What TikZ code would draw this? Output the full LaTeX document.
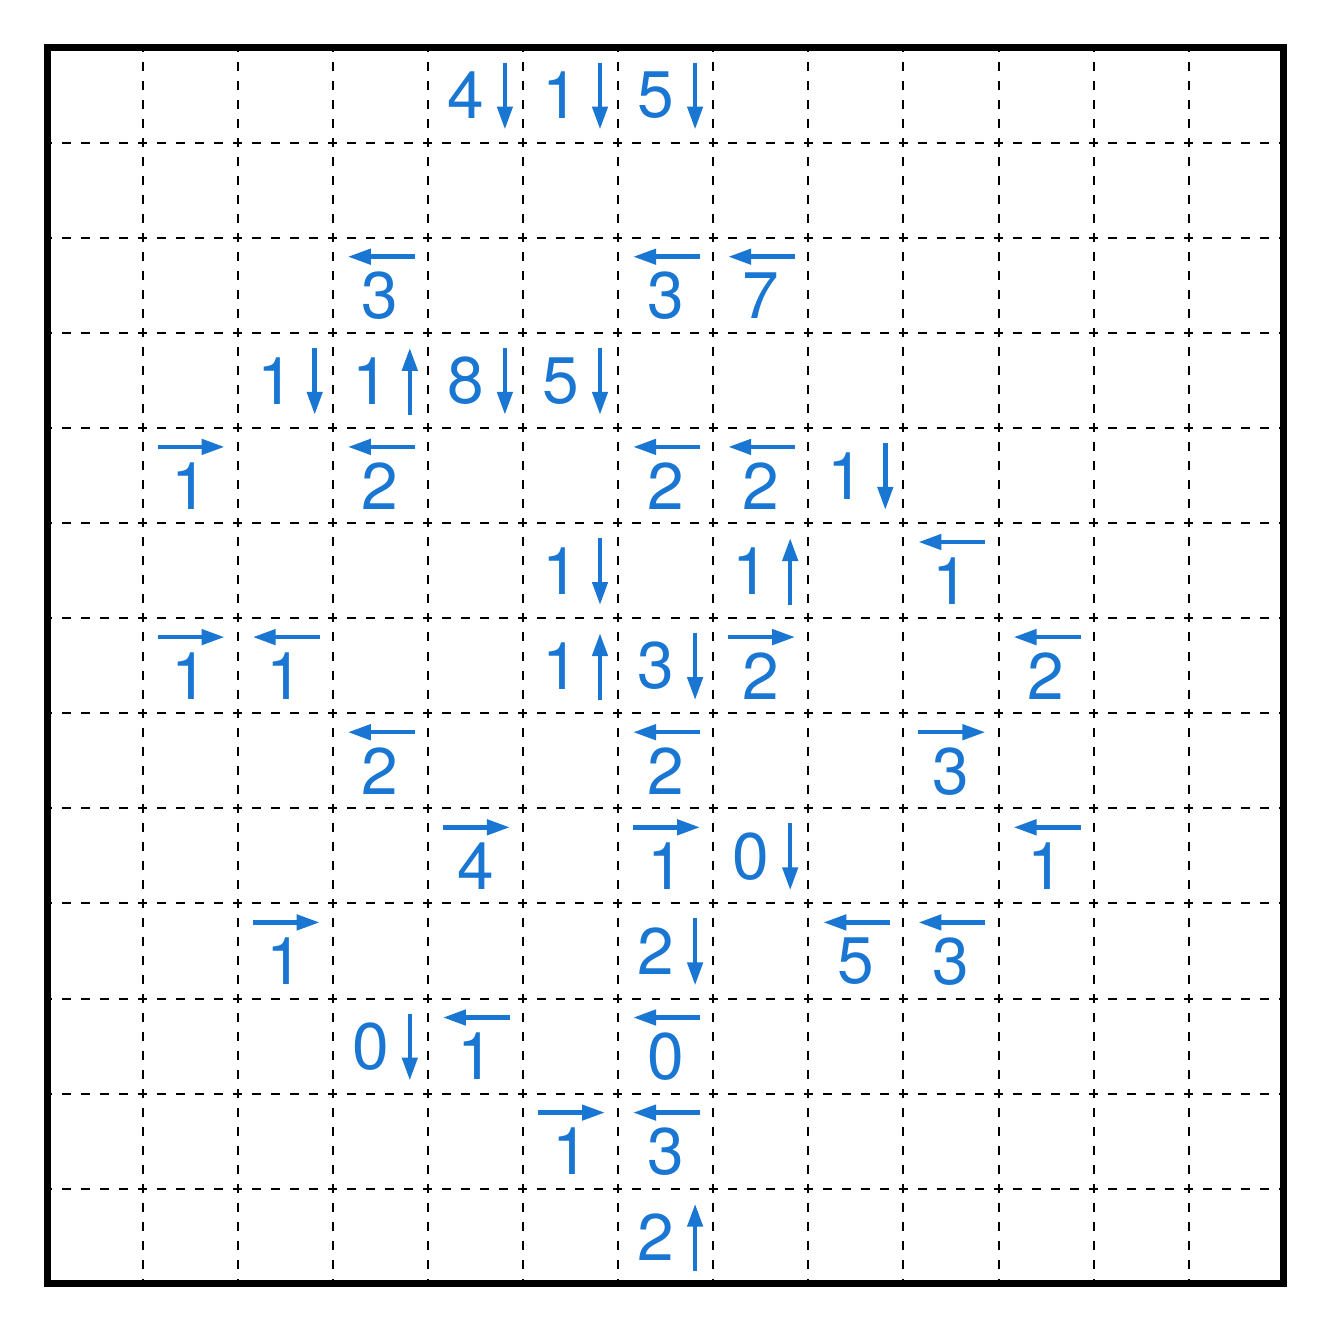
\documentclass[tikz,border=0pt]{standalone}
\usepackage{fontspec}
\setmainfont{TeX Gyre Heros}
\usetikzlibrary{arrows.meta}
\definecolor{clue}{RGB}{25,118,210}
\begin{document}
\begin{tikzpicture}[x=0.02cm,y=-0.02cm,
  num/.style={inner sep=0pt,text=clue,font=\fontsize{37.5}{40}\selectfont},
  arr/.style={draw=clue,line width=0.09cm,-{Triangle[length=0.46cm,width=0.3cm]}},
  gridline/.style={line width=0.04cm,dash pattern=on 0.18cm off 0.2004cm,dash phase=0.09cm}]
\useasboundingbox[fill=white] (0,0) rectangle (1330,1330);
\def\L{47.5}\def\S{95.1}
\foreach \k in {1,...,12}{
  \draw[gridline] ({\L+\S*\k},\L) -- ({\L+\S*\k},{\L+13*\S});
  \draw[gridline] (\L,{\L+\S*\k}) -- ({\L+13*\S},{\L+\S*\k});
}
\draw[line width=0.135cm] (\L,\L) rectangle ({\L+13*\S},{\L+13*\S});
% down arrows
\foreach \r/\c/\n in {0/4/4,0/5/1,0/6/5,3/2/1,3/4/8,3/5/5,4/8/1,5/5/1,6/6/3,8/7/0,9/6/2,10/3/0}{
  \pgfmathsetmacro\xx{\L+\S*\c}\pgfmathsetmacro\yy{\L+\S*\r}
  \node[num] (d\r-\c) at ({\xx+38},{\yy+48}) {\n};
  \draw[arr] ({\xx+77},{\yy+15}) -- ({\xx+77},{\yy+82});
}
% up arrows
\foreach \r/\c/\n in {3/3/1,5/7/1,6/5/1,12/6/2}{
  \pgfmathsetmacro\xx{\L+\S*\c}\pgfmathsetmacro\yy{\L+\S*\r}
  \node[num] (u\r-\c) at ({\xx+38},{\yy+48}) {\n};
  \draw[arr] ({\xx+77},{\yy+82}) -- ({\xx+77},{\yy+15});
}
% left arrows
\foreach \r/\c/\n in {2/3/3,2/6/3,2/7/7,4/3/2,4/6/2,4/7/2,5/9/1,6/2/1,6/10/2,7/3/2,7/6/2,8/10/1,9/8/5,9/9/3,10/4/1,10/6/0,11/6/3}{
  \pgfmathsetmacro\xx{\L+\S*\c}\pgfmathsetmacro\yy{\L+\S*\r}
  \node[num] (l\r-\c) at ({\xx+47.5},{\yy+58}) {\n};
  \draw[arr] ({\xx+82},{\yy+19}) -- ({\xx+15},{\yy+19});
}
% right arrows
\foreach \r/\c/\n in {4/1/1,6/1/1,6/7/2,7/9/3,8/4/4,8/6/1,9/2/1,11/5/1}{
  \pgfmathsetmacro\xx{\L+\S*\c}\pgfmathsetmacro\yy{\L+\S*\r}
  \node[num] (r\r-\c) at ({\xx+47.5},{\yy+58}) {\n};
  \draw[arr] ({\xx+15},{\yy+19}) -- ({\xx+82},{\yy+19});
}
\end{tikzpicture}
\end{document}
